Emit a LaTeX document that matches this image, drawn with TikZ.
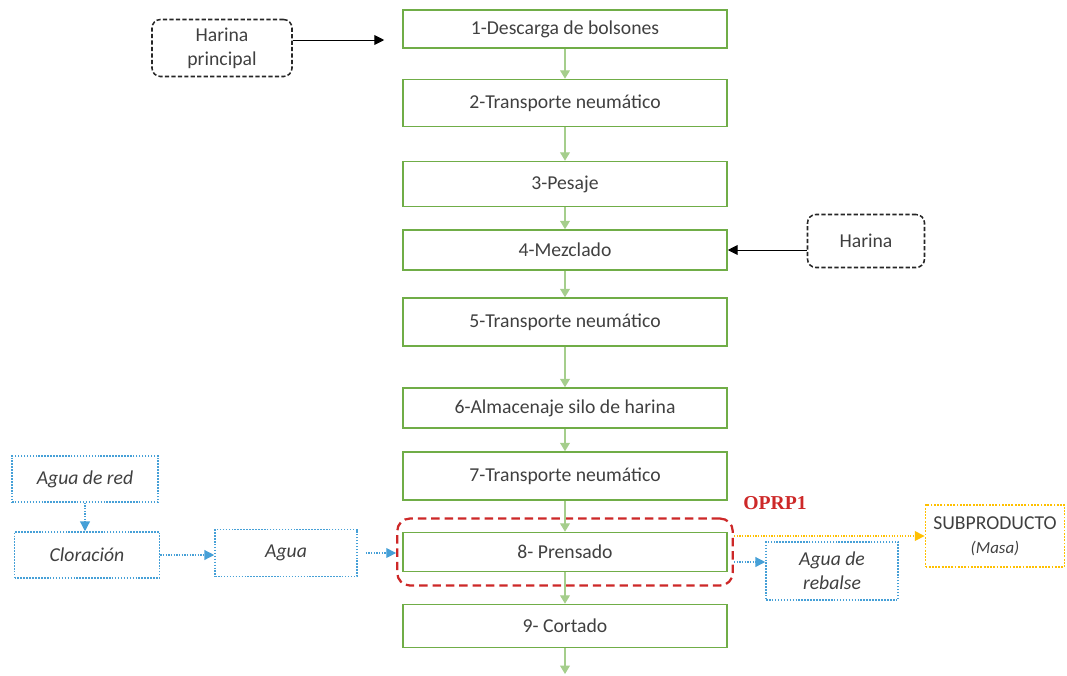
\documentclass[tikz,border=0pt]{standalone}
\usepackage{fontspec}
\setmainfont{Carlito}
\newfontfamily\timesfont{Liberation Serif}
\usetikzlibrary{arrows.meta,positioning,fit}
\definecolor{verde}{RGB}{112,173,71}
\definecolor{verdeclaro}{RGB}{165,206,140}
\definecolor{azul}{RGB}{70,160,215}
\definecolor{amarillo}{RGB}{255,192,0}
\definecolor{rojo}{RGB}{205,40,40}
\definecolor{texto}{RGB}{64,64,64}

\begin{document}
\begin{tikzpicture}[
  font=\fontsize{14}{17}\selectfont,
  every node/.append style={text=texto},
  paso/.style={draw=verde, line width=1.1pt, minimum width=8.1cm, minimum height=1.1cm, inner sep=2pt},
  ent/.style={draw=black!85, line width=1.1pt, dash pattern=on 3pt off 1.6pt,
    rounded corners=6pt, align=center},
  agu/.style={draw=azul, line width=1.1pt, densely dotted, align=center,
    font=\fontsize{14}{17}\selectfont\itshape},
  subp/.style={draw=amarillo, line width=1.3pt, densely dotted, align=center},
  flujo/.style={-{Triangle[width=7pt,length=6pt]}, verdeclaro, line width=0.9pt},
  negra/.style={-{Triangle[width=7pt,length=7pt]}, black, line width=0.7pt},
  fazul/.style={-{Triangle[width=7pt,length=7pt]}, azul, line width=0.9pt, densely dotted},
  famar/.style={-{Triangle[width=7pt,length=7pt]}, amarillo, line width=0.9pt, densely dotted}
]
\useasboundingbox (0,0) rectangle (26.675,-16.875);

% Linea principal
\node[paso, minimum height=0.95cm] (desc) at (14.125,-0.725) {1-Descarga de bolsones};
\node[paso, minimum height=1.175cm] (transp1) at (14.125,-2.575) {2-Transporte neumático};
\node[paso, minimum height=1.125cm] (pesaje) at (14.125,-4.6) {3-Pesaje};
\node[paso, minimum height=1.0cm] (mezcla) at (14.125,-6.25) {4-Mezclado};
\node[paso, minimum height=1.2cm] (transp2) at (14.125,-8.05) {5-Transporte neumático};
\node[paso, minimum height=1.0cm] (silo) at (14.125,-10.2) {6-Almacenaje silo de harina};
\node[paso, minimum height=1.2cm] (transp3) at (14.125,-11.9) {7-Transporte neumático};
\node[paso, minimum height=0.975cm] (prensa) at (14.125,-13.8) {8- Prensado};
\node[paso, minimum height=1.075cm] (corte) at (14.125,-15.65) {9- Cortado};
\coordinate (fin) at (14.125,-16.85);

% Entradas de harina
\node[ent, minimum width=3.5cm, minimum height=1.425cm] (harp) at (5.55,-1.2) {Harina\\principal};
\node[ent, minimum width=2.925cm, minimum height=1.325cm] (har) at (21.65,-6.025) {Harina};

% OPRP
\node[draw=rojo, line width=1.6pt, dash pattern=on 6pt off 3.5pt, rounded corners=9pt,
  fit=(prensa), inner xsep=0.125cm, inner ysep=0.33cm] (oprp) {};
\node[font=\timesfont\bfseries\fontsize{14}{17}\selectfont, text=rojo] (oprpl) at (19.375,-12.575) {OPRP1};

% Agua
\node[agu, minimum width=3.65cm, minimum height=1.15cm] (red) at (2.125,-11.975) {Agua de red};
\node[agu, minimum width=3.625cm, minimum height=1.15cm] (clor) at (2.175,-13.875) {Cloración};
\node[agu, minimum width=3.55cm, minimum height=1.175cm] (agua) at (7.15,-13.825) {Agua};
\node[agu, minimum width=3.3cm, minimum height=1.45cm] (rebalse) at (20.8,-14.275) {Agua de\\rebalse};
\node[subp, minimum width=3.475cm, minimum height=1.55cm] (sub) at (24.875,-13.4)
  {SUBPRODUCTO\\{\fontsize{12}{14}\selectfont\itshape (Masa)}};

% Flechas
\draw[flujo] (desc) -- (transp1);
\draw[flujo] (transp1) -- (pesaje);
\draw[flujo] (pesaje) -- (mezcla);
\draw[flujo] (mezcla) -- (transp2);
\draw[flujo] (transp2) -- (silo);
\draw[flujo] (silo) -- (transp3);
\draw[flujo] (transp3) -- (prensa);
\draw[flujo] (prensa) -- (corte);
\draw[flujo] (corte) -- (fin);
\draw[negra, shorten >=0.45cm] ([yshift=2mm]harp.east) -- ([yshift=2mm]harp.east -| desc.west);
\draw[negra] (har.west |- mezcla) -- (mezcla.east);
\draw[fazul] (red.south) -- (red.south |- clor.north);
\draw[fazul] (clor.east) -- (clor.east -| agua.west);
\draw[fazul, shorten <=0.2cm] (agua.east) -- (agua.east -| oprp.west);
\draw[fazul] ([yshift=-0.25cm]prensa.east -| oprp.east) -- ([yshift=-0.25cm]prensa.east -| rebalse.west);
\draw[famar] (sub.west -| oprp.east) -- (sub.west);
\end{tikzpicture}
\end{document}
